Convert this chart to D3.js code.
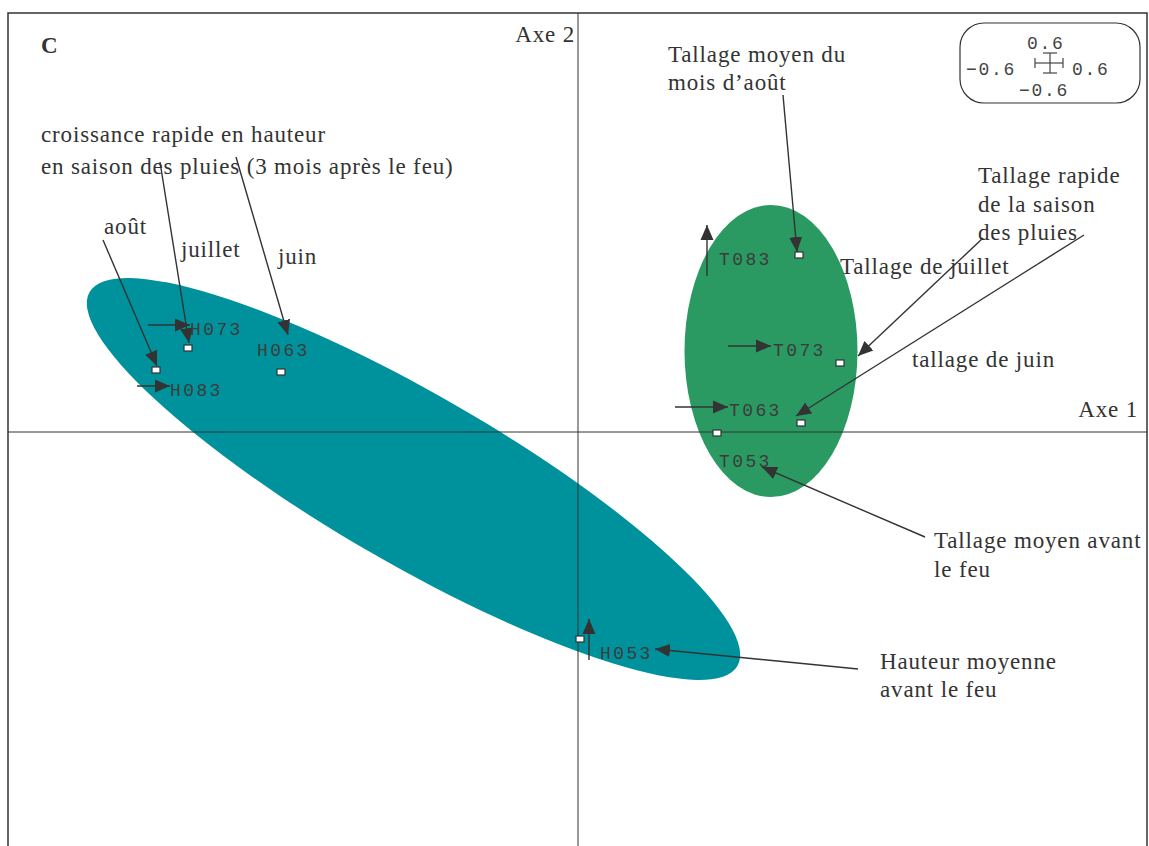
<!DOCTYPE html>
<html><head><meta charset="utf-8">
<script src="https://cdn.jsdelivr.net/npm/d3@7"></script>
<style>body{margin:0;background:#fff}svg{display:block}</style>
</head><body>
<script>
// ---- data (factorial plane coordinates) ----
const pointNames = ["H053","H063","H073","H083","T053","T063","T073","T083"];
const pointX = [0.02,-2.97,-3.90,-4.22,1.39,2.23,2.62,2.21];
const pointY = [-2.07,0.60,0.84,0.62,-0.01,0.09,0.69,1.77];
const labelX = [0.22,-3.21,-3.88,-4.08,1.41,1.51,1.95,1.41];
const labelY = [-2.27,0.76,0.97,0.36,-0.35,0.16,0.76,1.67];
// short arrows next to labels
const shortArrows = [
  [-4.30,1.07,-3.88,1.07],[-4.41,0.46,-4.08,0.46],[0.11,-2.28,0.11,-1.87],
  [1.29,1.56,1.29,2.07],[1.50,0.86,1.93,0.86],[0.97,0.25,1.50,0.25]
];
// annotation arrows
const noteArrows = [
  [-4.75,1.92,-4.21,0.66],[-4.18,2.70,-3.89,0.89],[-3.42,2.75,-2.90,0.97],
  [2.05,3.37,2.19,1.80],[4.05,1.94,2.80,0.76],[5.06,1.97,2.18,0.16],
  [3.47,-1.05,1.84,-0.35],[2.80,-2.37,0.77,-2.17]
];
const notes = [
  {t:"croissance rapide en hauteur",x:-5.37,y:2.90},
  {t:"en saison des pluies (3 mois après le feu)",x:-5.37,y:2.58},
  {t:"août",x:-4.74,y:1.98},
  {t:"juillet",x:-3.97,y:1.75},
  {t:"juin",x:-3.00,y:1.68},
  {t:"Tallage moyen du",x:0.90,y:3.70},
  {t:"mois d’août",x:0.90,y:3.42},
  {t:"Tallage rapide",x:4.00,y:2.49},
  {t:"de la saison",x:4.00,y:2.20},
  {t:"des pluies",x:4.00,y:1.92},
  {t:"Tallage de juillet",x:2.62,y:1.58},
  {t:"tallage de juin",x:3.34,y:0.65},
  {t:"Tallage moyen avant",x:3.56,y:-1.16},
  {t:"le feu",x:3.56,y:-1.45},
  {t:"Hauteur moyenne",x:3.02,y:-2.37},
  {t:"avant le feu",x:3.02,y:-2.65}
];
// inertia ellipses: cx, cy, rx, ry, angle(deg)
const ellipses = [
  {cx:-1.645,cy:-0.47,rx:3.74,ry:0.85,ang:30,fill:"#00929c"},
  {cx:1.93,cy:0.81,rx:0.865,ry:1.46,ang:0,fill:"#2a9a62"}
];
const scaleTicks = ["0.6","−0.6","0.6","−0.6"];

// ---- drawing ----
const W=1149,H=846;
const x=d3.scaleLinear().domain([-5.70,5.69]).range([8,1147]);
const y=d3.scaleLinear().domain([-4.19,4.19]).range([851,13]);
const svg=d3.select("body").append("svg").attr("width",W).attr("height",H);
const ink="#333";
svg.append("defs").append("marker").attr("id","ah").attr("markerUnits","userSpaceOnUse")
  .attr("viewBox","0 -8 16 16").attr("refX",15).attr("refY",0)
  .attr("markerWidth",16).attr("markerHeight",16).attr("orient","auto")
  .append("path").attr("d","M0,-6.5L15,0L0,6.5Z").attr("fill",ink);

// ellipses
ellipses.forEach(e=>{
  svg.append("ellipse").attr("cx",x(e.cx)).attr("cy",y(e.cy))
    .attr("rx",x(e.rx)-x(0)).attr("ry",y(0)-y(e.ry))
    .attr("transform",`rotate(${e.ang},${x(e.cx)},${y(e.cy)})`)
    .attr("fill",e.fill);
});
// frame and axes
svg.append("rect").attr("x",x(-5.70)).attr("y",y(4.19)).attr("width",x(5.69)-x(-5.70))
  .attr("height",y(-4.19)-y(4.19)).attr("fill","none").attr("stroke",ink).attr("stroke-width",1.5);
svg.append("line").attr("x1",x(-5.70)).attr("x2",x(5.69)).attr("y1",y(0)).attr("y2",y(0)).attr("stroke",ink).attr("stroke-width",1);
svg.append("line").attr("x1",x(0)).attr("x2",x(0)).attr("y1",y(4.19)).attr("y2",y(-4.19)).attr("stroke",ink).attr("stroke-width",1);

const serif="'Liberation Serif','Times New Roman',serif";
const mono="'Liberation Mono','Courier New',monospace";
const st=(sel)=>sel.attr("font-family",serif).attr("font-size",23).attr("letter-spacing",0.85).attr("fill",ink);
st(svg.append("text").attr("x",41).attr("y",53).attr("font-weight","bold").text("C"));
st(svg.append("text").attr("x",x(0)-3).attr("y",42).attr("text-anchor","end").text("Axe 2"));
st(svg.append("text").attr("x",1138).attr("y",y(0)-15).attr("text-anchor","end").text("Axe 1"));

// arrows
svg.selectAll(".sa").data(shortArrows.concat(noteArrows)).join("line")
  .attr("x1",d=>x(d[0])).attr("y1",d=>y(d[1])).attr("x2",d=>x(d[2])).attr("y2",d=>y(d[3]))
  .attr("stroke",ink).attr("stroke-width",1.4).attr("marker-end","url(#ah)");

// annotation texts
st(svg.selectAll(".note").data(notes).join("text")
  .attr("x",d=>x(d.x)).attr("y",d=>y(d.y)).text(d=>d.t));

// points
svg.selectAll(".pt").data(pointNames).join("rect")
  .attr("x",(d,i)=>x(pointX[i])-4).attr("y",(d,i)=>y(pointY[i])-3)
  .attr("width",8).attr("height",6).attr("fill","#fff").attr("stroke",ink).attr("stroke-width",1.2);
svg.selectAll(".lab").data(pointNames).join("text")
  .attr("x",(d,i)=>x(labelX[i])).attr("y",(d,i)=>y(labelY[i]))
  .attr("font-family",mono).attr("font-size",18).attr("letter-spacing",2.4)
  .attr("fill","#3c3c3c").text(d=>d);

// scale box
const g=svg.append("g");
g.append("rect").attr("x",960).attr("y",23).attr("width",180).attr("height",80).attr("rx",24)
  .attr("fill","#fff").attr("stroke",ink).attr("stroke-width",1.2);
const tf=(sel)=>sel.attr("font-family",mono).attr("font-size",18).attr("letter-spacing",1.7).attr("fill","#444");
tf(g.append("text").attr("x",1027).attr("y",49).text(scaleTicks[0]));
tf(g.append("text").attr("x",966).attr("y",75).text(scaleTicks[1]));
tf(g.append("text").attr("x",1072).attr("y",75).text(scaleTicks[2]));
tf(g.append("text").attr("x",1019).attr("y",96).text(scaleTicks[3]));
const cs=[[1035,63,1063,63],[1035,58,1035,68],[1063,58,1063,68],[1050,53,1050,73],[1043,53,1057,53],[1043,73,1057,73]];
g.selectAll("line").data(cs).join("line").attr("x1",d=>d[0]).attr("y1",d=>d[1]).attr("x2",d=>d[2]).attr("y2",d=>d[3])
  .attr("stroke","#444").attr("stroke-width",1.2);
</script>
</body></html>
